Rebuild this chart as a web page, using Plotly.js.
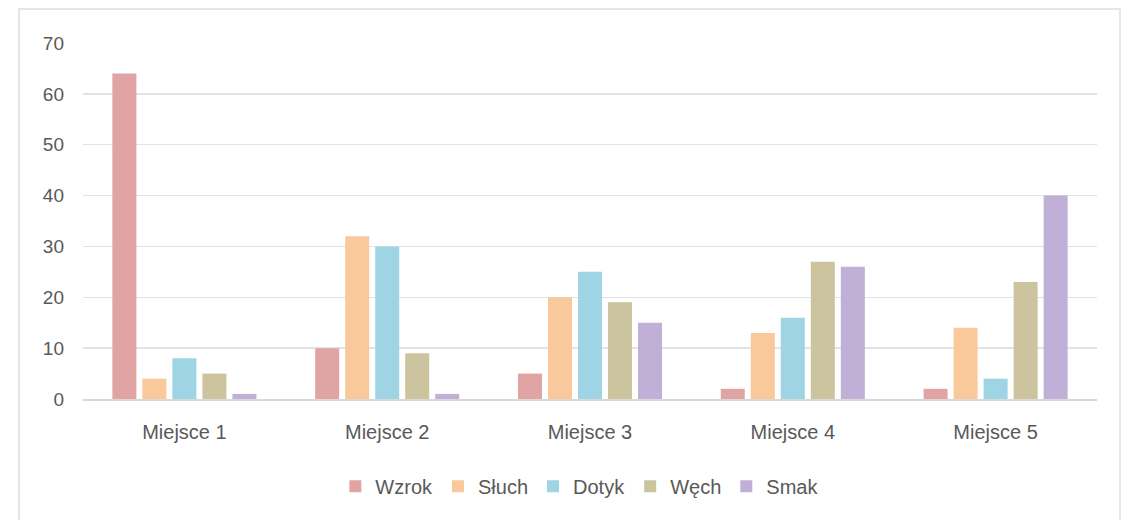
<!DOCTYPE html>
<html>
<head>
<meta charset="utf-8">
<script src="https://cdn.plot.ly/plotly-3.0.1.min.js"></script>
<style>
html,body{margin:0;padding:0;background:#fff;}
#wrap{position:relative;width:1133px;height:520px;}
#frame{position:absolute;left:18px;top:8px;width:1103px;height:520px;border:2px solid #e6e6e6;box-sizing:border-box;pointer-events:none;}
#chart{position:absolute;left:0;top:0;width:1133px;height:520px;}
</style>
</head>
<body>
<div id="wrap"><div id="chart"></div><div id="frame"></div></div>
<script>
const categories = ["Miejsce 1", "Miejsce 2", "Miejsce 3", "Miejsce 4", "Miejsce 5"];
const seriesNames = ["Wzrok", "Słuch", "Dotyk", "Węch", "Smak"];
const wzrok = [64, 10, 5, 2, 2];
const sluch = [4, 32, 20, 13, 14];
const dotyk = [8, 30, 25, 16, 4];
const wech = [5, 9, 19, 27, 23];
const smak = [1, 1, 15, 26, 40];
const yTicks = [0, 10, 20, 30, 40, 50, 60, 70];

const values = [wzrok, sluch, dotyk, wech, smak];
const colors = ["#e0a4a4", "#f9c99b", "#9fd4e4", "#cbc49f", "#c0afd7"];

const traces = seriesNames.map((name, i) => ({
  type: "bar",
  name: name,
  x: categories,
  y: values[i],
  marker: {color: colors[i]},
  hoverinfo: "x+y+name"
}));

const layout = {
  width: 1133,
  height: 520,
  margin: {l: 83, r: 36, t: 43, b: 121},
  paper_bgcolor: "rgba(0,0,0,0)",
  plot_bgcolor: "rgba(0,0,0,0)",
  barmode: "group",
  bargap: 0.26,
  bargroupgap: 0.2,
  font: {family: "Liberation Sans, Arial, sans-serif", size: 19, color: "#595959"},
  xaxis: {
    tickfont: {size: 20, color: "#595959"},
    showgrid: false,
    showline: true,
    linecolor: "#d9d9d9",
    linewidth: 1.5,
    ticks: "",
    zeroline: false,
    ticklabelstandoff: 14
  },
  yaxis: {
    range: [0, 70],
    tickvals: yTicks,
    ticktext: yTicks.map(String),
    tickfont: {size: 19, color: "#595959"},
    showgrid: true,
    gridcolor: "#e3e3e3",
    gridwidth: 1.5,
    zeroline: false,
    showline: false,
    ticks: "",
    ticklabelstandoff: 18
  },
  legend: {
    orientation: "h",
    x: 0.49,
    xanchor: "center",
    y: -0.19,
    yanchor: "top",
    font: {size: 20, color: "#595959"},
    itemwidth: 30,
    traceorder: "normal"
  },
  showlegend: true
};

Plotly.newPlot("chart", traces, layout, {displayModeBar: false, staticPlot: true});
</script>
</body>
</html>
